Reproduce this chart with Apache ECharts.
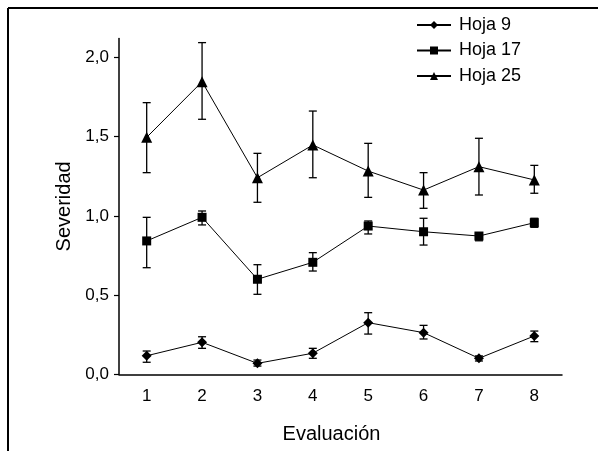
<!DOCTYPE html>
<html>
<head>
<meta charset="utf-8">
<script src="https://cdn.jsdelivr.net/npm/echarts@6/dist/echarts.min.js"></script>
<style>
  html, body { margin: 0; padding: 0; background: #fff; }
  #chart { width: 598px; height: 451px; }
</style>
</head>
<body>
<div id="chart"></div>
<script>
const categories = ["1", "2", "3", "4", "5", "6", "7", "8"];

// media y limites de la barra de error
const hoja9 = [0.117, 0.202, 0.069, 0.133, 0.326, 0.263, 0.101, 0.242];
const hoja9Low = [0.076, 0.164, 0.052, 0.101, 0.254, 0.223, 0.084, 0.206];
const hoja9High = [0.147, 0.237, 0.090, 0.164, 0.389, 0.309, 0.116, 0.273];

const hoja17 = [0.842, 0.991, 0.600, 0.707, 0.936, 0.900, 0.873, 0.957];
const hoja17Low = [0.673, 0.943, 0.505, 0.652, 0.886, 0.816, 0.843, 0.928];
const hoja17High = [0.991, 1.031, 0.692, 0.768, 0.968, 0.985, 0.890, 0.985];

const hoja25 = [1.496, 1.847, 1.241, 1.448, 1.283, 1.163, 1.311, 1.227];
const hoja25Low = [1.273, 1.610, 1.086, 1.241, 1.117, 1.048, 1.132, 1.143];
const hoja25High = [1.715, 2.094, 1.395, 1.662, 1.458, 1.273, 1.490, 1.319];

const yTicks = [0, 0.5, 1, 1.5, 2];

const FONT = "Liberation Sans, Arial, sans-serif";

function errorSeries(low, high) {
  return {
    type: "custom",
    silent: true,
    z: 1,
    data: low.map((l, i) => [i, l, high[i]]),
    renderItem(params, api) {
      const lo = api.coord([api.value(0), api.value(1)]);
      const hi = api.coord([api.value(0), api.value(2)]);
      const cap = 4;
      const style = { stroke: "#000", lineWidth: 1.3 };
      return {
        type: "group",
        children: [
          { type: "line", shape: { x1: lo[0], y1: lo[1], x2: hi[0], y2: hi[1] }, style },
          { type: "line", shape: { x1: hi[0] - cap, y1: hi[1], x2: hi[0] + cap, y2: hi[1] }, style },
          { type: "line", shape: { x1: lo[0] - cap, y1: lo[1], x2: lo[0] + cap, y2: lo[1] }, style }
        ]
      };
    }
  };
}

function lineSeries(name, data, symbol, size) {
  return {
    name,
    type: "line",
    data,
    symbol,
    symbolSize: size,
    z: 3,
    color: "#000",
    lineStyle: { color: "#000", width: 1 },
    itemStyle: { color: "#000" }
  };
}

const chart = echarts.init(document.getElementById("chart"));
chart.setOption({
  animation: false,
  backgroundColor: "#fff",
  textStyle: { fontFamily: FONT, color: "#000" },
  graphic: [
    { type: "line", shape: { x1: 8, y1: 8, x2: 598, y2: 8 }, style: { stroke: "#000", lineWidth: 2 } },
    { type: "line", shape: { x1: 8, y1: 8, x2: 8, y2: 451 }, style: { stroke: "#000", lineWidth: 2 } }
  ],
  legend: {
    orient: "vertical",
    left: 411,
    top: 11,
    itemWidth: 34,
    itemHeight: 10,
    itemGap: 7.5,
    data: ["Hoja 9", "Hoja 17", "Hoja 25"],
    textStyle: { fontFamily: FONT, fontSize: 18, color: "#000", padding: [0, 0, 0, 3] }
  },
  grid: { left: 119, right: 36, top: 38.5, bottom: 76.7 },
  xAxis: {
    type: "category",
    data: categories,
    boundaryGap: true,
    name: "Evaluación",
    nameLocation: "middle",
    nameGap: 50,
    nameTextStyle: { fontFamily: FONT, fontSize: 20, color: "#000", padding: [0, 18, 0, 0] },
    axisLine: { lineStyle: { color: "#000", width: 1.5 } },
    axisTick: { length: 5, lineStyle: { color: "#000", width: 1.2 } },
    axisLabel: { fontFamily: FONT, fontSize: 17, color: "#000", margin: 14 },
    splitLine: { show: false }
  },
  yAxis: {
    type: "value",
    min: 0,
    max: 2.12,
    name: "Severidad",
    nameLocation: "middle",
    nameGap: 42,
    nameTextStyle: { fontFamily: FONT, fontSize: 20, color: "#000" },
    axisLine: { show: true, lineStyle: { color: "#000", width: 1.5 } },
    axisTick: { show: true, length: 5, customValues: yTicks, lineStyle: { color: "#000", width: 1.2 } },
    axisLabel: {
      fontFamily: FONT, fontSize: 17, color: "#000", margin: 10,
      customValues: yTicks,
      formatter: v => v.toFixed(1).replace(".", ",")
    },
    splitLine: { show: false }
  },
  series: [
    errorSeries(hoja9Low, hoja9High),
    errorSeries(hoja17Low, hoja17High),
    errorSeries(hoja25Low, hoja25High),
    lineSeries("Hoja 9", hoja9, "diamond", 10),
    lineSeries("Hoja 17", hoja17, "rect", 9),
    lineSeries("Hoja 25", hoja25, "triangle", 11)
  ]
});
</script>
</body>
</html>
